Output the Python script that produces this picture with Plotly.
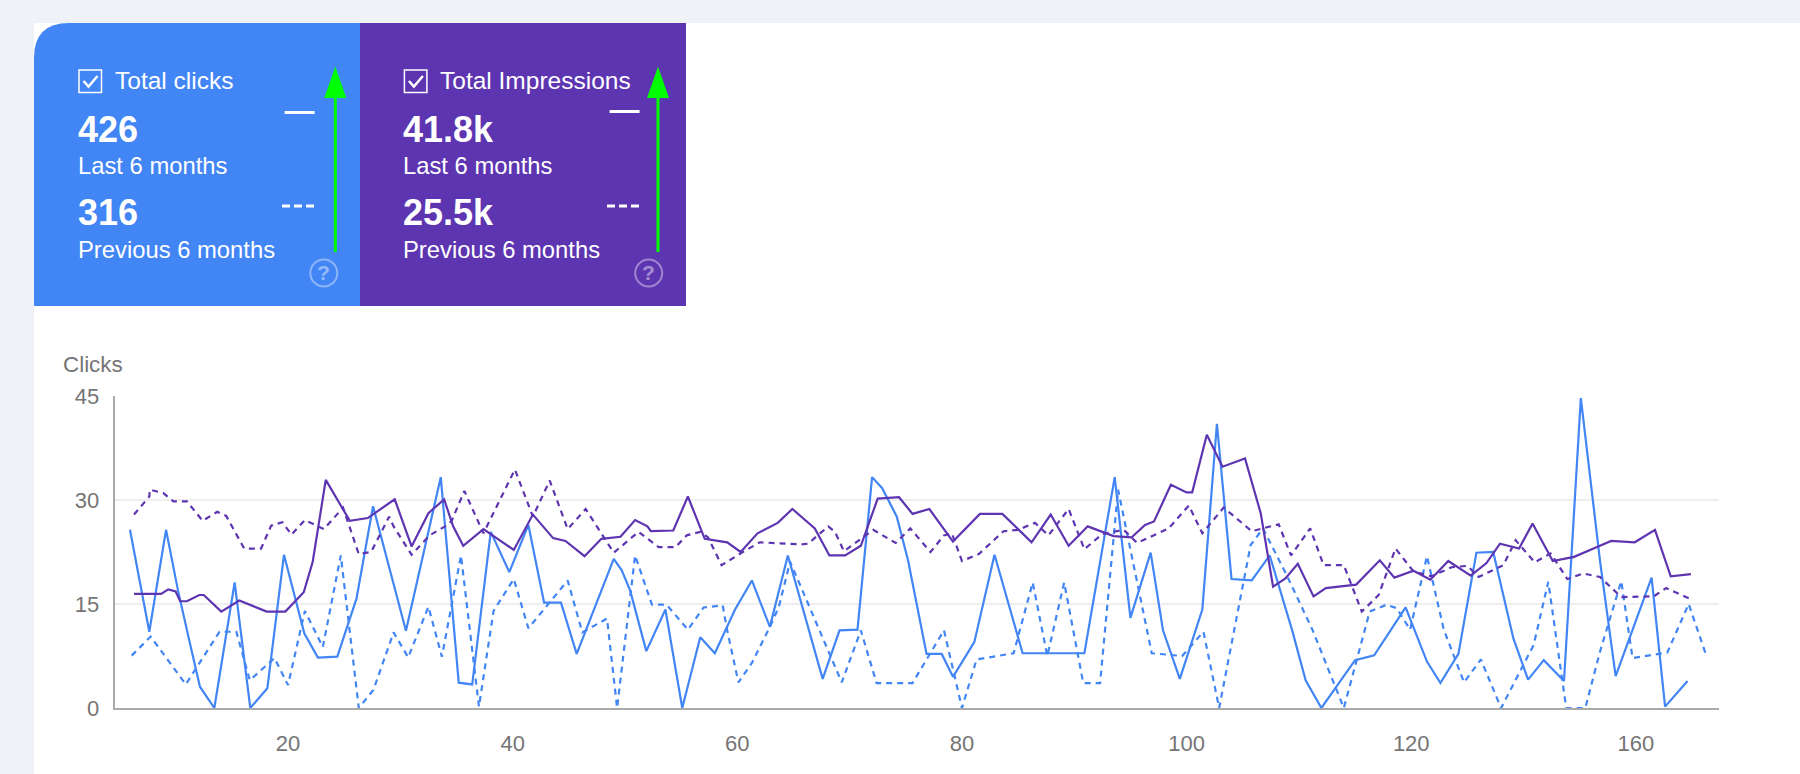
import plotly.graph_objects as go

W, H = 1800, 774
BLUE = "#4285f4"
PURPLE = "#5e35b1"
GREY = "#757575"
BG = "#eff3f8"
FONT = "Liberation Sans"

clicks_x = [5.93,7.65,9.14,10.2,11.27,12.16,13.44,15.25,16.64,18.16,19.64,21.45,22.66,24.39,26.1,27.57,30.5,33.6,35.2,36.4,38.05,39.7,41.4,42.8,44.3,45.7,49,49.7,50.45,51.9,53.6,55.1,56.7,58,59.8,61.3,62.9,64.5,67.6,69.1,70.7,72,72.9,74.2,75.2,76.4,76.85,78.2,79.2,81.1,82.9,85.4,90.9,93.6,95,96.8,97.9,99.4,101.4,102.7,104,105.8,107.4,109.4,110.6,112,115,116.7,119.5,121.4,122.6,124.2,125.8,127.3,128.5,129.1,130.4,131.8,133.6,135.1,136.8,138.2,141.4,142.6,144.6]
clicks_y = [25.7,11,25.7,17,9.3,3.07,0,18.1,0,2.84,22.1,10.77,7.26,7.4,15.8,29.1,11.15,33.3,3.65,3.4,25.4,19.6,26.4,15.2,15.2,7.8,21.5,19.9,17,8.2,14.2,0,10.2,7.9,14.2,18.4,11.7,22,4.2,11.2,11.3,33.3,31.7,27.6,21.3,11.5,7.8,7.8,4.5,9.5,22.1,7.9,7.9,33.3,13,22.4,11.2,4.2,14.2,41,18.6,18.4,22,11.2,4,0,6.9,7.6,14.5,6.7,3.6,7.8,22.4,22.5,14.1,10,4.1,6.9,3.9,44.7,21.3,4.6,18.8,0.2,3.9]

clicks_prev_x = [6.08,7.77,10.9,13.9,15.4,16.6,18.8,20,21.5,23.1,24.7,26.3,27.6,29.4,30.7,32.5,33.7,35.4,37,38.3,40.1,41.4,44.9,46.2,48.4,49.3,50.9,52.4,53.7,55.6,57,58.7,59.1,60.1,61.3,62.9,63.7,64.7,69.3,71,72.4,75.6,78.4,80,81.3,84.6,86.3,87.6,89.1,90.8,92.3,93.9,96.9,99.6,101.5,102.9,105.7,106.8,108.9,111.2,114,116.3,117.8,118.7,119.9,121.4,122.9,124.7,126.2,128,130.9,132.2,133.8,135.5,136.8,138.7,139.7,142.8,144.7,146.2]
clicks_prev_y = [7.55,10.3,3.4,11,11,4,7.2,3.3,14,8.8,22,0,2.6,10.9,7.3,14.6,7.4,22,0.2,14,18.6,11.5,18.4,10.9,12.9,0,22,14.9,14.9,11.3,14.5,14.8,11.2,3.7,6.5,11.7,14.6,21.1,3.7,11.2,3.6,3.6,11.2,0,7,7.9,18.1,7.5,18.1,3.6,3.6,31.5,7.9,7.5,11,0,23.5,25.9,19.2,11.3,0,13.9,14.9,14.4,11.3,21.9,11.3,3.7,7,0,9.1,18.2,0,0,8.1,18.3,7.2,8,15,7.9]

impr_x = [6.29,8.7,9.34,10,10.4,11,12.1,12.5,14.06,15.66,18.1,19.76,21.4,22.2,23.36,25.5,27.1,29.5,31,32.5,33.9,34.7,35.6,37.4,40.1,41.8,43.6,44.7,46.4,47.9,49.6,50.9,52,52.3,54.3,55.6,57.1,59.1,60.3,61.8,63.6,64.9,66.9,68.2,69.6,71,72.5,74.4,75.6,77.1,79.2,81.6,83.6,86.2,87.9,89.5,91.2,93.5,95.1,96.3,97.1,98.6,100,100.5,101.8,103.2,105.2,106.6,107.7,108.8,109.9,111.3,112.4,115.1,117.2,118.5,120.2,121.7,123.3,125.3,126.7,127.9,129.6,130.8,132.6,134.5,136.8,137.8,139.9,141.7,143.1,144.9]
impr_y = [16.45,16.45,17.1,16.8,15.4,15.4,16.3,16.3,13.9,15.5,13.9,13.9,16.7,21.1,32.9,27,27.4,30.1,23.3,28.1,30.1,26.2,23.4,25.8,22.8,27.9,24.5,24.1,21.9,24.4,24.7,27.1,26.2,25.5,25.6,30.5,24.4,23.9,22.5,25.2,26.7,28.7,25.9,22,22,23.4,30.2,30.4,28,28.7,24,28,28,23.9,27.9,23.4,26.2,24.8,24.6,26.4,26.9,32.2,31.1,31.1,39.4,34.8,36,28.1,17.5,18.7,20.8,16.1,17.3,17.8,21.3,18.8,19.8,18.5,21.2,19.1,20.9,23.7,23,26.6,21.2,21.8,23.4,24.1,23.9,25.7,19,19.3]

impr_prev_x = [6.29,7.65,7.7,8.9,9.8,11,12.4,13.7,14.5,16.1,17.6,18.5,19.5,20.3,21.5,23.2,24.9,26.3,27.4,29,29.4,31,32.6,34.3,34.6,35.7,37.4,40.2,41.8,43.3,44.9,46.5,49,51.2,53,54.5,55.5,56.7,57.4,58.6,60.3,62,65.7,66.3,68.1,68.7,69.5,70.9,72.1,74.1,75.4,77.2,78.4,79.1,80,81.5,83.7,85,86.5,87.7,89.5,90.9,92.5,94.4,95.6,98.4,100.2,101.4,103.3,105.8,108.2,109.3,111,112.2,114,115.6,117.1,118.6,120.2,121.8,123.6,125,126,128.2,129.3,131,132.4,133.9,135.3,136.8,138.7,141.6,142.7,145]
impr_prev_y = [27.9,30.5,31.5,31,29.8,29.8,27,28.3,27.7,23,23,26.3,26.8,25,27.1,25.8,28.9,22.2,22.5,27.6,26.2,22.1,24.9,26.5,27.1,31.3,25.2,34.4,27.6,32.8,25.8,28.7,22.4,25.4,23.2,23.2,24.9,25.4,24.6,20.6,22.3,23.9,23.6,23.7,26.2,25.4,22.6,24.3,25.7,23.8,25.9,22.5,24.9,25.2,21.2,22.2,25.5,25.7,26.7,24.9,28.7,22.9,25.1,25.7,23.8,25.9,29.2,25.2,28.9,25.5,26.5,22,25.9,20.6,20.6,13.9,16.3,23,19.7,19,20.3,20.5,18.9,20.6,24.2,21,22.3,18.6,19.4,18.9,16,16.1,17.3,15.6]

y_ticks = [0, 15, 30, 45]
x_tick_positions = [20, 40, 60, 80, 100, 120, 140]
x_tick_labels = ["20", "40", "60", "80", "100", "120", "160"]

panel_titles = ["Total clicks", "Total Impressions"]
panel_current = ["426", "41.8k"]
panel_previous = ["316", "25.5k"]
period_labels = ["Last 6 months", "Previous 6 months"]


def X(v):
    return v / W


def Y(v):
    return 1 - v / H


def line(x0, y0, x1, y1, color, width, dash="solid", layer="above"):
    return dict(type="line", xref="paper", yref="paper", x0=X(x0), y0=Y(y0), x1=X(x1), y1=Y(y1),
                line=dict(color=color, width=width, dash=dash), layer=layer)


def rect(x0, y0, x1, y1, fill, line_color=None, width=0, layer="above"):
    return dict(type="rect", xref="paper", yref="paper", x0=X(x0), y0=Y(y0), x1=X(x1), y1=Y(y1),
                fillcolor=fill, line=dict(color=line_color or fill, width=width), layer=layer)


def poly(points, fill=None, color=None, width=0, close=True, layer="above"):
    d = "M " + " L ".join(f"{X(a):.5f},{Y(b):.5f}" for a, b in points) + (" Z" if close else "")
    return dict(type="path", xref="paper", yref="paper", path=d, fillcolor=fill or "rgba(0,0,0,0)",
                line=dict(color=color or "rgba(0,0,0,0)", width=width), layer=layer)


def label(x, y, text, size, bold=False, color="white", anchor="left"):
    return dict(xref="paper", yref="paper", x=X(x), y=Y(y), text=f"<b>{text}</b>" if bold else text,
                showarrow=False, xanchor=anchor, yanchor="middle", align=anchor,
                font=dict(family=FONT, size=size, color=color))


fig = go.Figure()
series = [
    (clicks_prev_x, clicks_prev_y, BLUE, "6px,5px", "Clicks previous 6 months"),
    (clicks_x, clicks_y, BLUE, "solid", "Clicks last 6 months"),
    (impr_prev_x, impr_prev_y, PURPLE, "6px,5px", "Impressions previous 6 months"),
    (impr_x, impr_y, PURPLE, "solid", "Impressions last 6 months"),
]
for xs, ys, color, dash, name in series:
    fig.add_trace(go.Scatter(x=xs, y=ys, mode="lines", name=name,
                             line=dict(color=color, width=2.2, dash=dash), showlegend=False))

shapes = [rect(34, 23, W + 2, H + 2, "white", layer="below")]

# Blue panel with rounded top-left corner, purple panel beside it
R = 35
shapes.append(dict(type="path", xref="paper", yref="paper",
                   path=(f"M {X(34)},{Y(306)} L {X(34)},{Y(23 + R)} "
                         f"Q {X(34)},{Y(23)} {X(34 + R)},{Y(23)} "
                         f"L {X(360)},{Y(23)} L {X(360)},{Y(306)} Z"),
                   fillcolor=BLUE, line=dict(width=0), layer="below"))
shapes.append(rect(360, 23, 686, 306, PURPLE, layer="below"))

annotations = [label(61, 364, "Clicks", 22.4, color=GREY)]

for i, dx in enumerate([0, 325.4]):
    shapes.append(rect(79 + dx, 70, 101.5 + dx, 92.5, "rgba(0,0,0,0)", "white", 1.5))
    shapes.append(poly([(83.5 + dx, 81), (88.5 + dx, 86.5), (97.5 + dx, 76)], color="white", width=2.5, close=False))
    annotations.append(label(112.5 + dx, 80, panel_titles[i], 24.5))
    annotations.append(label(75.5 + dx, 129.5, panel_current[i], 36, bold=True))
    annotations.append(label(75.5 + dx, 166, period_labels[0], 23.8))
    annotations.append(label(75.5 + dx, 212.5, panel_previous[i], 36, bold=True))
    annotations.append(label(75.5 + dx, 249.5, period_labels[1], 23.8))
    sx = 0 if i == 0 else 325
    ax = 335.3 if i == 0 else 658
    ay = 0 if i == 0 else -1
    shapes.append(line(284.6 + sx, 112.5 + ay, 314.6 + sx, 112.5 + ay, "white", 3))
    shapes.append(line(282 + sx, 206, 314.6 + sx, 206, "white", 3, dash="8px,4px"))
    shapes.append(line(ax, 97, ax, 252, "#00ff00", 3))
    shapes.append(poly([(ax, 66.5), (ax - 11, 98), (ax + 11, 98)], fill="#00ff00"))
    hx = 323.8 if i == 0 else 648.7
    shapes.append(dict(type="circle", xref="paper", yref="paper", x0=X(hx - 13.5), x1=X(hx + 13.5),
                       y0=Y(273 + 13.5), y1=Y(273 - 13.5), fillcolor="rgba(0,0,0,0)",
                       line=dict(color="rgba(255,255,255,0.4)", width=2)))
    annotations.append(label(hx, 273, "?", 21, bold=True, color="rgba(255,255,255,0.45)", anchor="center"))

fig.update_layout(
    width=W, height=H, autosize=False,
    margin=dict(l=0, r=0, t=0, b=0, pad=0),
    paper_bgcolor=BG, plot_bgcolor="rgba(0,0,0,0)",
    shapes=shapes, annotations=annotations, showlegend=False,
    font=dict(family=FONT, color=GREY, size=22),
    xaxis=dict(domain=[X(114.7), X(1719)], range=[4.57, 147.4], tickmode="array", automargin=False,
               tickvals=x_tick_positions, ticktext=x_tick_labels, showgrid=False, zeroline=False,
               showline=True, linecolor="#aaaaaa", linewidth=2, ticks="", ticklabelstandoff=15,
               tickfont=dict(family=FONT, size=22, color=GREY)),
    yaxis=dict(domain=[Y(708), Y(396)], range=[0, 45], tickmode="array", tickvals=y_ticks, automargin=False,
               showgrid=True, gridcolor="#eeeeee", gridwidth=2, zeroline=False,
               showline=True, linecolor="#aaaaaa", linewidth=2, ticks="", ticklabelstandoff=9,
               tickfont=dict(family=FONT, size=22, color=GREY)),
)

fig.write_html("out.html", config=dict(displayModeBar=False),
               post_script="document.body.style.margin='0';document.body.style.overflow='hidden';")
